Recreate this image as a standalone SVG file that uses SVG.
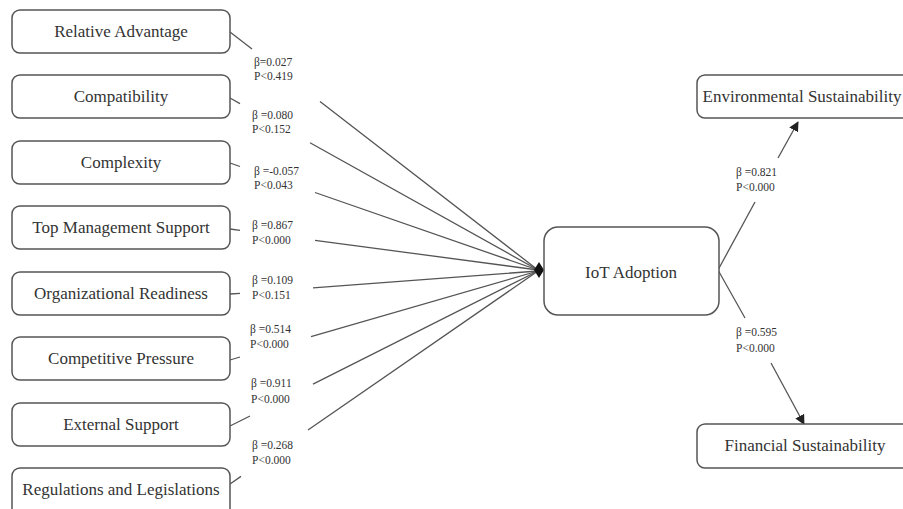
<svg xmlns="http://www.w3.org/2000/svg" width="903" height="509" viewBox="0 0 903 509">
<defs>
<style>
.box{fill:#fff;stroke:#555;stroke-width:1.5}
.nt{font-family:"Liberation Serif","Times New Roman",serif;font-size:17px;fill:#333;text-anchor:middle}
.lb{font-family:"Liberation Serif","Times New Roman",serif;font-size:11.5px;fill:#333}
.cn{fill:none;stroke:#555;stroke-width:1.3}
</style>
<marker id="ah" viewBox="0 0 10 10" refX="9" refY="5" markerWidth="10" markerHeight="10" markerUnits="userSpaceOnUse" orient="auto">
<path d="M0,0 L10,5 L0,10 z" fill="#222"/>
</marker>
</defs>
<rect width="903" height="509" fill="#fff"/>
<g id="connectors">
<path class="cn" d="M230,32 L252,49 M320,101.6 L538,270"/>
<path class="cn" d="M230,98 L240,103.6 M310,142.7 L538,270"/>
<path class="cn" d="M230,163 L240,166.5 M315,192.5 L538,270"/>
<path class="cn" d="M230,229 L240,230.3 M315,240.3 L538,270"/>
<path class="cn" d="M230,294 L240,293.3 M313,287.8 L538,271"/>
<path class="cn" d="M230,360 L240,357 M311,336.6 L538,271"/>
<path class="cn" d="M230,426 L250,416 M313,384.2 L538,271"/>
<path class="cn" d="M230,484 L241,476.4 M308,430 L538,271"/>
<polygon points="534,270 539,262 544,270 539,278" fill="#111"/>
<path class="cn" d="M718,270 L755,202"/>
<path class="cn" d="M778,158 L798,122" marker-end="url(#ah)"/>
<path class="cn" d="M718,270 L745,318"/>
<path class="cn" d="M771,363 L804,424" marker-end="url(#ah)"/>
</g>
<g id="labels">
<text class="lb" x="254" y="66">β=0.027</text><text class="lb" x="254" y="80">P&lt;0.419</text>
<text class="lb" x="252" y="119">β =0.080</text><text class="lb" x="252" y="133">P&lt;0.152</text>
<text class="lb" x="254" y="175">β =-0.057</text><text class="lb" x="254" y="189">P&lt;0.043</text>
<text class="lb" x="252" y="229">β =0.867</text><text class="lb" x="252" y="244">P&lt;0.000</text>
<text class="lb" x="252" y="284">β =0.109</text><text class="lb" x="252" y="299">P&lt;0.151</text>
<text class="lb" x="250" y="333">β =0.514</text><text class="lb" x="250" y="348">P&lt;0.000</text>
<text class="lb" x="251" y="387">β =0.911</text><text class="lb" x="251" y="403">P&lt;0.000</text>
<text class="lb" x="252" y="449">β =0.268</text><text class="lb" x="252" y="464">P&lt;0.000</text>
<text class="lb" x="736" y="176">β =0.821</text><text class="lb" x="736" y="191">P&lt;0.000</text>
<text class="lb" x="736" y="336">β =0.595</text><text class="lb" x="736" y="352">P&lt;0.000</text>
</g>
<g id="relative-advantage"><rect class="box" x="12" y="10" width="218" height="43" rx="8"/><text class="nt" x="121" y="37">Relative Advantage</text></g>
<g id="compatibility"><rect class="box" x="12" y="75" width="218" height="43" rx="8"/><text class="nt" x="121" y="102">Compatibility</text></g>
<g id="complexity"><rect class="box" x="12" y="141" width="218" height="43" rx="8"/><text class="nt" x="121" y="168">Complexity</text></g>
<g id="top-management-support"><rect class="box" x="12" y="206" width="218" height="43" rx="8"/><text class="nt" x="121" y="233">Top Management Support</text></g>
<g id="organizational-readiness"><rect class="box" x="12" y="272" width="218" height="43" rx="8"/><text class="nt" x="121" y="299">Organizational Readiness</text></g>
<g id="competitive-pressure"><rect class="box" x="12" y="337" width="218" height="43" rx="8"/><text class="nt" x="121" y="364">Competitive Pressure</text></g>
<g id="external-support"><rect class="box" x="12" y="403" width="218" height="43" rx="8"/><text class="nt" x="121" y="430">External Support</text></g>
<g id="regulations-legislations"><rect class="box" x="12" y="468" width="218" height="50" rx="8"/><text class="nt" x="121" y="495">Regulations and Legislations</text></g>
<g id="iot-adoption"><rect class="box" x="544" y="227" width="175" height="88" rx="14"/><text class="nt" x="631" y="278">IoT Adoption</text></g>
<g id="environmental-sustainability"><rect class="box" x="697" y="75" width="230" height="43" rx="8"/><text class="nt" x="802" y="102">Environmental Sustainability</text></g>
<g id="financial-sustainability"><rect class="box" x="697" y="424" width="230" height="44" rx="8"/><text class="nt" x="805" y="451">Financial Sustainability</text></g>
</svg>
